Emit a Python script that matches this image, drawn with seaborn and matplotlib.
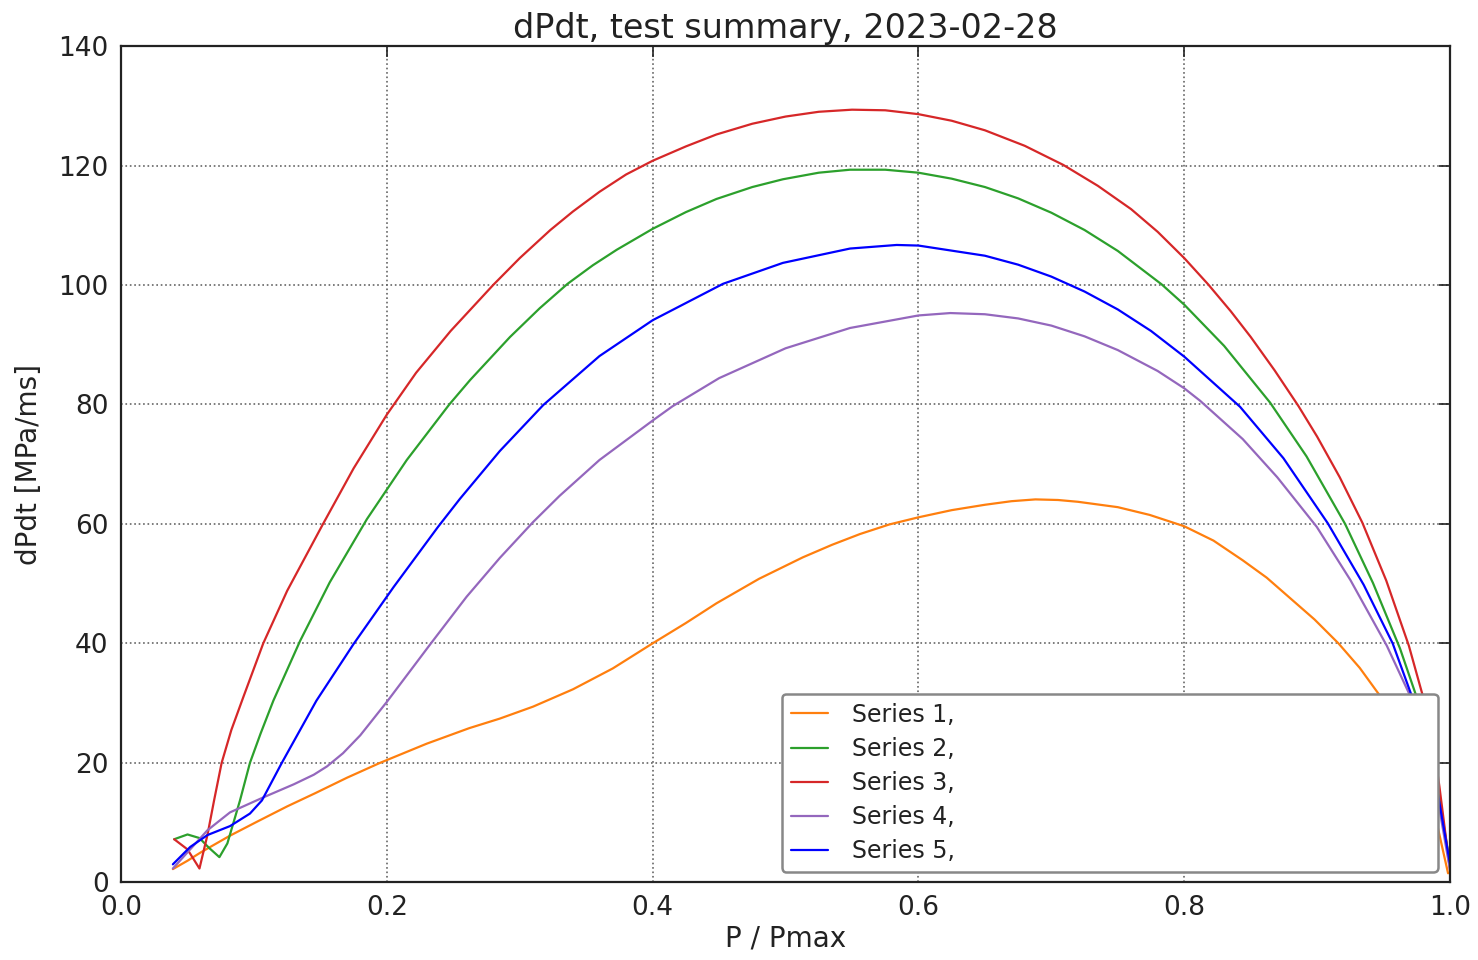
import numpy as np
import pandas as pd
import matplotlib
matplotlib.use("Agg")
import matplotlib.pyplot as plt
from matplotlib.lines import Line2D
import seaborn as sns

# ---- data ----
s1_x = [0.039, 0.050, 0.060, 0.082, 0.102, 0.125, 0.146, 0.170, 0.195, 0.230, 0.262, 0.285, 0.310,
        0.340, 0.370, 0.400, 0.425, 0.448, 0.480, 0.513, 0.535, 0.556, 0.578, 0.600, 0.625, 0.650,
        0.670, 0.688, 0.705, 0.720, 0.750, 0.774, 0.800, 0.822, 0.844, 0.862, 0.880, 0.898, 0.916,
        0.932, 0.947, 0.985, 0.9985]
s1_y = [2.2, 3.6, 5.0, 7.8, 10.1, 12.7, 14.9, 17.5, 20.0, 23.2, 25.8, 27.4, 29.4,
        32.3, 35.8, 40.0, 43.4, 46.7, 50.8, 54.4, 56.5, 58.3, 59.9, 61.1, 62.3, 63.2,
        63.8, 64.1, 64.0, 63.7, 62.8, 61.5, 59.6, 57.2, 53.9, 51.0, 47.5, 44.0, 40.0,
        35.9, 31.3, 14.9, 1.5]

s2_x = [0.040, 0.050, 0.059, 0.066, 0.074, 0.080, 0.0895, 0.097, 0.105, 0.1146, 0.1347, 0.157, 0.185,
        0.215, 0.247, 0.2627, 0.2927, 0.315, 0.336, 0.355, 0.373, 0.400, 0.425, 0.448, 0.475, 0.498,
        0.525, 0.5485, 0.575, 0.600, 0.625, 0.650, 0.675, 0.700, 0.725, 0.750, 0.783, 0.800, 0.830,
        0.8646, 0.892, 0.921, 0.942, 0.9624, 0.975, 0.985, 0.992, 1.000]
s2_y = [7.2, 8.0, 7.4, 5.8, 4.2, 6.5, 13.7, 20.0, 24.9, 30.4, 40.4, 50.2, 60.8,
        70.7, 80.0, 84.1, 91.3, 96.1, 100.2, 103.3, 105.9, 109.4, 112.2, 114.4, 116.4, 117.7,
        118.8, 119.3, 119.3, 118.8, 117.8, 116.4, 114.5, 112.1, 109.2, 105.7, 100.1, 96.7, 89.8,
        80.3, 71.3, 60.0, 50.1, 39.1, 30.9, 24.0, 14.0, 3.0]

s3_x = [0.040, 0.050, 0.059, 0.065, 0.070, 0.0757, 0.083, 0.092, 0.107, 0.125, 0.152, 0.175, 0.200,
        0.222, 0.248, 0.280, 0.300, 0.323, 0.340, 0.360, 0.380, 0.400, 0.425, 0.448, 0.475, 0.500,
        0.525, 0.550, 0.575, 0.600, 0.625, 0.650, 0.680, 0.709, 0.735, 0.760, 0.780, 0.800, 0.818,
        0.835, 0.850, 0.868, 0.886, 0.900, 0.917, 0.934, 0.952, 0.969, 0.979, 0.985, 0.992, 1.000]
s3_y = [7.2, 5.5, 2.3, 7.9, 13.7, 20.0, 25.5, 31.0, 40.0, 48.8, 60.0, 69.3, 78.3,
        85.3, 92.3, 100.0, 104.5, 109.2, 112.3, 115.6, 118.5, 120.8, 123.2, 125.2, 127.0, 128.2,
        129.0, 129.35, 129.25, 128.6, 127.5, 125.9, 123.3, 120.1, 116.6, 112.7, 108.9, 104.5, 100.1,
        95.6, 91.3, 85.7, 79.7, 74.6, 67.8, 60.2, 50.5, 39.6, 31.6, 27.0, 16.0, 2.0]

s4_x = [0.039, 0.052, 0.065, 0.082, 0.107, 0.130, 0.145, 0.155, 0.167, 0.180, 0.200, 0.2325, 0.260,
        0.285, 0.310, 0.330, 0.360, 0.400, 0.415, 0.450, 0.500, 0.5485, 0.600, 0.624, 0.650, 0.675,
        0.700, 0.725, 0.750, 0.780, 0.800, 0.812, 0.844, 0.870, 0.8997, 0.925, 0.9524, 0.970, 0.985,
        0.993, 1.000]
s4_y = [2.3, 5.5, 8.7, 11.7, 14.2, 16.4, 18.0, 19.4, 21.6, 24.6, 30.2, 39.8, 47.8,
        54.3, 60.3, 64.7, 70.7, 77.3, 79.7, 84.4, 89.4, 92.8, 94.9, 95.3, 95.1, 94.4,
        93.2, 91.4, 89.1, 85.6, 82.7, 80.6, 74.2, 67.8, 59.5, 50.6, 39.6, 31.2, 21.0,
        11.0, 2.0]

s5_x = [0.039, 0.052, 0.065, 0.082, 0.097, 0.106, 0.121, 0.147, 0.175, 0.205, 0.2385, 0.255, 0.285,
        0.3177, 0.360, 0.400, 0.453, 0.498, 0.5485, 0.5836, 0.600, 0.650, 0.675, 0.700, 0.725, 0.750,
        0.775, 0.800, 0.842, 0.8746, 0.908, 0.935, 0.9568, 0.971, 0.985, 0.993, 1.000]
s5_y = [3.0, 5.9, 7.9, 9.4, 11.5, 13.7, 20.0, 30.4, 39.9, 49.4, 59.5, 64.2, 72.2,
        79.9, 88.1, 94.1, 100.2, 103.7, 106.1, 106.7, 106.6, 104.9, 103.4, 101.4, 98.9, 95.9,
        92.3, 88.0, 79.6, 71.0, 60.1, 49.8, 40.0, 31.3, 22.0, 12.0, 3.0]

series_names = ["Series 1,", "Series 2,", "Series 3,", "Series 4,", "Series 5,"]
series_colors = ["#ff7f0e", "#2ca02c", "#d62728", "#9467bd", "#0000ff"]
x_ticks = [0.0, 0.2, 0.4, 0.6, 0.8, 1.0]
y_ticks = [0, 20, 40, 60, 80, 100, 120, 140]

all_x = [s1_x, s2_x, s3_x, s4_x, s5_x]
all_y = [s1_y, s2_y, s3_y, s4_y, s5_y]
frames = []
for name, xs, ys in zip(series_names, all_x, all_y):
    frames.append(pd.DataFrame({"x": xs, "y": ys, "series": name}))
df = pd.concat(frames, ignore_index=True)

# ---- style ----
sns.set_style("white")
plt.rcParams.update({
    "font.family": ["DejaVu Sans"],
    "xtick.direction": "in",
    "ytick.direction": "in",
    "xtick.top": True,
    "ytick.right": True,
    "xtick.major.size": 8,
    "ytick.major.size": 8,
    "xtick.major.width": 1.2,
    "ytick.major.width": 1.2,
    "xtick.major.pad": 9,
    "ytick.major.pad": 9,
    "xtick.color": "#222222",
    "ytick.color": "#222222",
    "lines.solid_joinstyle": "round",
})

fig = plt.figure(figsize=(14.78, 9.60), dpi=100)
ax = fig.add_axes([0.0819, 0.081, 0.8992, 0.871])

sns.lineplot(data=df, x="x", y="y", hue="series", hue_order=series_names,
             palette=series_colors, sort=False, estimator=None, units="series",
             linewidth=1.6, ax=ax, legend=False)

ax.set_xlim(0, 1.0)
ax.set_ylim(0, 140)
ax.set_xticks(x_ticks)
ax.set_yticks(y_ticks)
ax.set_xticklabels([f"{v:.1f}" for v in x_ticks], fontsize=19, color="#222222")
ax.set_yticklabels([f"{v}" for v in y_ticks], fontsize=19, color="#222222")
ax.grid(True, linestyle=":", color="#666666", linewidth=1.2)
for sp in ax.spines.values():
    sp.set_visible(True)
    sp.set_color("#222222")
    sp.set_linewidth(1.6)

ax.set_title("dPdt, test summary, 2023-02-28", fontsize=24, color="#222222", pad=6)
ax.set_xlabel("P / Pmax", fontsize=20, color="#222222", labelpad=3)
ax.set_ylabel("dPdt [MPa/ms]", fontsize=20, color="#222222", labelpad=11)

handles = [Line2D([0], [0], color=c, lw=1.6) for c in series_colors]
leg = ax.legend(handles, series_names, loc="lower left",
                bbox_to_anchor=(0.497, 0.012, 0.494, 0.213), mode="expand",
                fontsize=17, frameon=True, fancybox=True, framealpha=1.0,
                edgecolor="#888888", handlelength=1.6, handletextpad=1.0,
                labelspacing=0.43, borderpad=0.38, borderaxespad=0)
leg.get_frame().set_linewidth(1.8)
for t in leg.get_texts():
    t.set_color("#222222")

fig.savefig("out.png", dpi=100)
